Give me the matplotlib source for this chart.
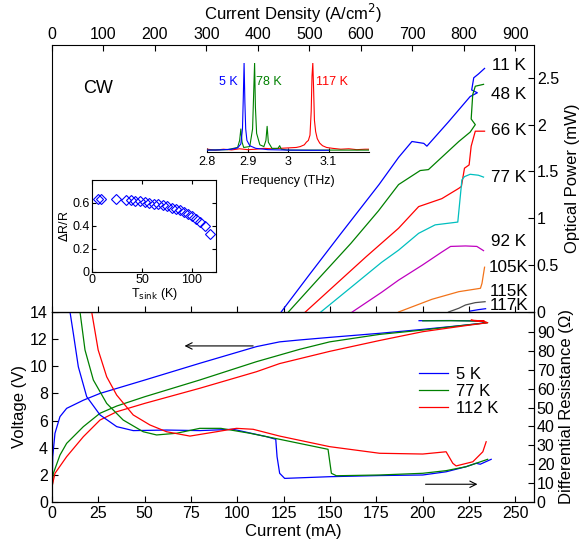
import matplotlib
matplotlib.use("Agg")
import matplotlib.pyplot as plt

plt.rcParams['font.family'] = ['Liberation Sans', 'DejaVu Sans']
plt.rcParams['font.size'] = 11.5

# ---- top panel: optical power vs current density ----
temps_top = ['11 K', '48 K', '66 K', '77 K', '92 K', '105K', '115K', '117K']
j11 = [445, 500, 560, 635, 673, 699, 722, 728, 770, 812, 826, 815, 819, 828, 840]
p11 = [0, 0.40, 0.83, 1.36, 1.65, 1.82, 1.80, 1.77, 2.03, 2.30, 2.34, 2.37, 2.50, 2.54, 2.60]
j48 = [459, 520, 580, 634, 673, 715, 731, 790, 812, 822, 814, 817, 822, 838]
p48 = [0, 0.37, 0.73, 1.08, 1.36, 1.51, 1.52, 1.82, 1.92, 2.00, 2.06, 2.32, 2.41, 2.43]
j66 = [492, 550, 610, 673, 712, 757, 790, 795, 801, 810, 814, 822, 840]
p66 = [0, 0.29, 0.59, 0.894, 1.125, 1.21, 1.32, 1.34, 1.535, 1.57, 1.77, 1.93, 1.93]
j77 = [522, 580, 640, 673, 712, 744, 788, 796, 801, 812, 828, 838]
p77 = [0, 0.26, 0.53, 0.66, 0.84, 0.93, 0.96, 1.41, 1.445, 1.47, 1.46, 1.44]
j92 = [583, 640, 673, 719, 757, 774, 803, 825, 838]
p92 = [0, 0.21, 0.34, 0.50, 0.64, 0.70, 0.705, 0.70, 0.655]
j105 = [673, 738, 790, 832, 835, 840]
p105 = [0, 0.136, 0.217, 0.253, 0.306, 0.478]
j115 = [770, 790, 803, 822, 841]
p115 = [0, 0.04, 0.075, 0.10, 0.11]
j117 = [812, 828, 842]
p117 = [0.01, 0.025, 0.035]
label_p = [2.63, 2.32, 1.94, 1.44, 0.75, 0.47, 0.215, 0.065]

# ---- spectrum inset ----
f_5 = [2.80, 2.83, 2.86, 2.875, 2.883, 2.887, 2.889, 2.891, 2.893, 2.895, 2.898, 2.905, 2.92, 2.95, 3.0, 3.05, 3.1]
a_5 = [0.01, 0.012, 0.02, 0.035, 0.08, 0.25, 0.6, 1.0, 0.55, 0.25, 0.12, 0.06, 0.03, 0.015, 0.01, 0.008, 0.008]
f_78 = [2.80, 2.85, 2.875, 2.880, 2.883, 2.886, 2.89, 2.905, 2.912, 2.915, 2.917, 2.919, 2.922, 2.93, 2.94,
        2.945, 2.948, 2.951, 2.96, 2.975, 2.979, 2.983, 3.0, 3.1, 3.2]
a_78 = [0.01, 0.015, 0.04, 0.12, 0.25, 0.1, 0.04, 0.05, 0.25, 0.7, 1.0, 0.5, 0.2, 0.07, 0.05,
        0.12, 0.28, 0.1, 0.03, 0.03, 0.06, 0.02, 0.01, 0.01, 0.01]
f_117 = [2.80, 2.82, 2.84, 2.86, 2.88, 2.90, 2.92, 2.94, 2.96, 2.98, 3.00, 3.02, 3.03, 3.04, 3.045, 3.05,
         3.054, 3.057, 3.059, 3.061, 3.063, 3.065, 3.068, 3.072, 3.078, 3.085, 3.095, 3.11, 3.13, 3.15, 3.17, 3.19, 3.2]
a_117 = [0.02, 0.01, 0.02, 0.012, 0.025, 0.015, 0.02, 0.03, 0.025, 0.03, 0.035, 0.04, 0.05, 0.07, 0.1, 0.12,
         0.18, 0.45, 0.85, 1.0, 0.7, 0.35, 0.22, 0.14, 0.09, 0.06, 0.04, 0.03, 0.02, 0.025, 0.015, 0.02, 0.02]

# ---- dR/R inset ----
t_sink = [6.0, 8.7, 23.7, 33.7, 38.4, 42.7, 47.7, 52.7, 57.0, 61.7, 66.0, 70.4, 75.0, 79.4,
          83.7, 87.7, 91.7, 96.0, 100.4, 104.4, 108.4, 113.4, 118.4]
dr_r = [0.635, 0.635, 0.635, 0.629, 0.623, 0.620, 0.615, 0.609, 0.600, 0.594, 0.588, 0.579, 0.571,
        0.559, 0.547, 0.536, 0.521, 0.503, 0.483, 0.459, 0.433, 0.395, 0.331]

# ---- bottom panel: voltage and differential resistance ----
iv5 = [0, 0.4, 1.6, 4.3, 7.9, 16.9, 25.9, 50.1, 79.7, 110.3, 122.8, 133.6, 149.8, 176.7, 200, 223.4, 234.2,
       231, 215, 198]
v5 = [0.15, 3.34, 5.06, 6.29, 6.9, 7.5, 8.0, 8.99, 10.22, 11.45, 11.8, 11.94, 12.13, 12.43, 12.72, 13.04, 13.21,
      13.34, 13.37, 13.36]
iv77 = [0, 0.7, 4.3, 7.9, 16.9, 25.9, 34.9, 50.1, 79.7, 110.3, 133.6, 149.8, 176.7, 200, 223.4, 235,
        231, 215, 200]
v77 = [0.9, 2.1, 3.46, 4.32, 5.55, 6.54, 7.07, 7.76, 8.99, 10.34, 11.25, 11.8, 12.35, 12.67, 13.04, 13.21,
       13.33, 13.36, 13.35]
iv112 = [0, 1.6, 7.9, 16.9, 25.9, 34.9, 50.1, 79.7, 110.3, 122.8, 149.8, 176.7, 200, 223.4, 235,
         232, 226, 229, 233]
v112 = [1.13, 2.11, 3.34, 4.81, 6.04, 6.65, 7.27, 8.38, 9.6, 10.2, 11.1, 11.9, 12.55, 13.0, 13.21,
        13.34, 13.4, 13.33, 13.36]

ir5 = [9.7, 11.5, 14.2, 18.7, 25.9, 34.9, 43.8, 61.8, 79.7, 97.7, 115.7, 120.7, 121.4, 122.8, 125.5,
       149.8, 176.7, 200, 212.6, 223.4, 228.8, 231, 236.9]
r5 = [100.7, 89.3, 71.6, 55.8, 46.1, 39.9, 37.8, 38.1, 37.8, 38.5, 34.6, 33.2, 24, 15.2, 12.5,
      13.4, 14.0, 14.3, 16.0, 18.7, 20.5, 20.0, 22.6]
ir77 = [15.1, 17.8, 22.3, 29.5, 38.4, 49.2, 56.4, 67.2, 79.7, 91.1, 106.7, 122.8, 148.9, 150.7, 153.4,
        176.7, 200, 212.6, 223.4, 235]
r77 = [100.7, 80.5, 64.6, 52.2, 43.4, 37.2, 35.5, 36.4, 39, 39, 36.4, 33.2, 27.9, 15.2, 13.9,
       14.3, 15.2, 16.6, 18.7, 22.6]
ir112 = [21.4, 24.9, 29.5, 34.9, 43.8, 52.8, 61.8, 74.4, 88.7, 99.5, 108.5, 122.8, 149.8, 176.7, 200,
         212.6, 216.2, 218, 227, 232.4, 234.2]
r112 = [100.7, 80.5, 66.3, 56.6, 46.1, 40.8, 37.2, 34.9, 37.2, 39, 38.5, 34.9, 29.3, 25.8, 25.4,
        26.6, 20.5, 19.1, 21.3, 26.6, 31.9]

blue, green, red = (0, 0, 1), (0, 0.5, 0), (1, 0, 0)
top_colors = [blue, green, red, (0, 0.75, 0.75), (0.75, 0, 0.75), (0.95, 0.45, 0.1), (0.3, 0.3, 0.3), blue]

W, H = 580, 544
fig = plt.figure(figsize=(W / 100, H / 100), dpi=100)
ax_b = fig.add_axes([52 / W, 1 - 502 / H, 482 / W, 190 / H])
ax_t = fig.add_axes([52 / W, 1 - 312 / H, 482 / W, 267 / H])

# top panel
jmax = 936.0
for (jj, pp), c in zip([(j11, p11), (j48, p48), (j66, p66), (j77, p77), (j92, p92),
                        (j105, p105), (j115, p115), (j117, p117)], top_colors):
    ax_t.plot(jj, pp, color=c, lw=0.9)
for lab, yy in zip(temps_top, label_p):
    ax_t.text(887, yy, lab, fontsize=12.3, ha='center', va='center')
ax_t.text(60, 2.39, 'CW', fontsize=13, va='center')
ax_t.set_xlim(0, jmax)
ax_t.set_ylim(0, 2.85)
ax_t.xaxis.tick_top()
ax_t.xaxis.set_label_position('top')
ax_t.set_xticks(range(0, 901, 100))
ax_t.set_xlabel('Current Density (A/cm$^2$)', fontsize=12, labelpad=5)
ax_t.yaxis.tick_right()
ax_t.yaxis.set_label_position('right')
ax_t.set_yticks([0, 0.5, 1, 1.5, 2, 2.5])
ax_t.set_yticklabels(['0', '0.5', '1', '1.5', '2', '2.5'])
ax_t.set_ylabel('Optical Power (mW)', fontsize=12, labelpad=4)
ax_t.tick_params(direction='in', length=4, pad=2)
sec = ax_t.secondary_xaxis('bottom', functions=(lambda j: j * 260 / jmax, lambda i: i * jmax / 260))
sec.set_xticks(range(0, 251, 25))
sec.tick_params(direction='in', length=4, labelbottom=False)

# spectrum inset
ax_s = fig.add_axes([207.3 / W, 1 - 152.3 / H, 161.7 / W, 89.3 / H])
ax_s.patch.set_alpha(0)
ax_s.plot(f_117, a_117, color=red, lw=0.8)
ax_s.plot(f_78, a_78, color=green, lw=0.8)
ax_s.plot(f_5, a_5, color=blue, lw=0.8)
ax_s.set_xlim(2.8, 3.2)
ax_s.set_ylim(-0.015, 1.0)
for sp in ['top', 'left', 'right']:
    ax_s.spines[sp].set_visible(False)
ax_s.set_yticks([])
ax_s.set_xticks([2.8, 2.9, 3.0, 3.1])
ax_s.set_xticklabels(['2.8', '2.9', '3', '3.1'])
ax_s.tick_params(direction='in', length=3, labelsize=9, pad=3)
ax_s.set_xlabel('Frequency (THz)', fontsize=9, labelpad=5)
ax_s.text(2.83, 0.78, '5 K', color=blue, fontsize=9, va='center')
ax_s.text(2.92, 0.78, '78 K', color=green, fontsize=9, va='center')
ax_s.text(3.07, 0.78, '117 K', color=red, fontsize=9, va='center')

# dR/R inset
ax_i = fig.add_axes([92.3 / W, 1 - 271.7 / H, 123.7 / W, 91.7 / H])
ax_i.plot(t_sink, dr_r, 'D', mfc='none', mec=blue, ms=5, mew=0.8)
ax_i.set_xlim(0, 124)
ax_i.set_ylim(0, 0.8)
ax_i.set_xticks([0, 50, 100])
ax_i.set_yticks([0, 0.2, 0.4, 0.6])
ax_i.set_yticklabels(['0', '0.2', '0.4', '0.6'])
ax_i.tick_params(direction='in', length=3, labelsize=9, pad=2, top=True, right=True)
ax_i.set_xlabel('T$_{\\rm sink}$ (K)', fontsize=9, labelpad=0)
ax_i.set_ylabel('$\\Delta$R/R', fontsize=9, labelpad=1)

# bottom panel
ax_b.plot(iv5, v5, color=blue, lw=0.9, label='5 K')
ax_b.plot(iv77, v77, color=green, lw=0.9, label='77 K')
ax_b.plot(iv112, v112, color=red, lw=0.9, label='112 K')
ax_b.set_xlim(0, 260)
ax_b.set_ylim(0, 14)
ax_b.set_xticks(range(0, 251, 25))
ax_b.set_yticks(range(0, 15, 2))
ax_b.set_xlabel('Current (mA)', fontsize=12, labelpad=2)
ax_b.set_ylabel('Voltage (V)', fontsize=12, labelpad=2)
ax_b.tick_params(direction='in', length=4, pad=3)
ax_b.annotate('', xy=(70, 11.5), xytext=(110, 11.5),
              arrowprops=dict(arrowstyle='->', color='k', lw=0.8))
ax_b.legend(loc='upper left', bbox_to_anchor=(0.73, 0.79), frameon=False, fontsize=12,
            handlelength=1.75, handletextpad=0.5, labelspacing=0.12)

ax_r = ax_b.twinx()
ax_r.plot(ir5, r5, color=blue, lw=0.9)
ax_r.plot(ir77, r77, color=green, lw=0.9)
ax_r.plot(ir112, r112, color=red, lw=0.9)
ax_r.set_ylim(0, 100.6)
ax_r.set_yticks(range(0, 91, 10))
ax_r.set_ylabel('Differential Resistance (\u03a9)', fontsize=12, labelpad=3)
ax_r.tick_params(direction='in', length=4, pad=2)
ax_r.annotate('', xy=(231, 9.4), xytext=(200, 9.4),
              arrowprops=dict(arrowstyle='->', color='k', lw=0.8))

fig.savefig('out.png', dpi=100)
